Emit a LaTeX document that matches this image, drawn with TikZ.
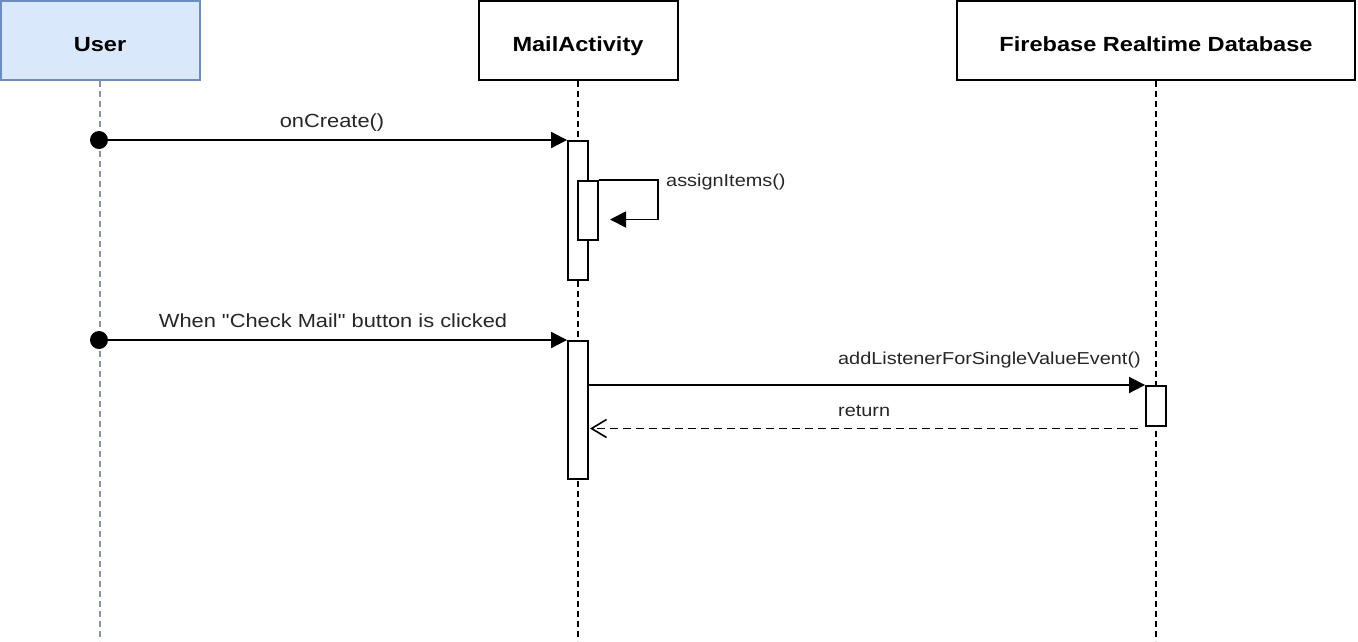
\documentclass[tikz,border=0pt]{standalone}
\usepackage{fontspec}
\setmainfont{Liberation Sans}[FakeStretch=1.15]
\newfontfamily\labfont{Liberation Sans}[FakeStretch=1.15]
\usetikzlibrary{arrows.meta}
\definecolor{ublue}{HTML}{DAE8FC}
\definecolor{ublueb}{HTML}{6C8EBF}
\definecolor{ugray}{HTML}{8A93A6}
\definecolor{lbl}{HTML}{262626}
\tikzset{
  hdr/.style={draw=black, line width=2pt, fill=white, minimum width=199pt, minimum height=79pt, inner sep=0pt, text height=22.4pt, text depth=0pt, font=\fontsize{20.5}{24}\selectfont\bfseries},
  actbox/.style={draw=black, line width=1.9pt, fill=white, minimum width=20pt, inner sep=0pt, anchor=north},
  lifel/.style={line width=1.5pt, dash pattern=on 6pt off 4pt},
  msg/.style={line width=1.9pt, -{Triangle[length=16pt,width=16pt]}},
  retmsg/.style={line width=1.8pt, dash pattern=on 8pt off 5pt, -{Straight Barb[length=15pt,width=18pt,line width=1.6pt]}},
  lab/.style={text=lbl, font=\labfont\fontsize{19}{22}\selectfont, inner sep=0pt},
  labs/.style={text=lbl, font=\labfont\fontsize{17.3}{20}\selectfont, inner sep=0pt}
}
\begin{document}
\begin{tikzpicture}[x=1pt,y=-1pt]
\useasboundingbox (0,0) rectangle (1358,641);
% headers
\node[hdr, fill=ublue, draw=ublueb] (user) at (100,40.5) {User};
\node[hdr] (mail) at (578,40.5) {MailActivity};
\node[hdr, minimum width=398pt] (fb) at (1156,40.5) {Firebase Realtime Database};
% bottom coordinates
\coordinate (ub) at (100,641);
\coordinate (mb) at (578,641);
\coordinate (fbb) at (1156,641);
% lifelines
\draw[lifel, ugray] (user.south) -- (ub);
\draw[lifel] (mail.south) -- (mb);
\draw[lifel] (fb.south) -- (fbb);
% activations
\node[actbox, minimum height=139pt] (act1) at (578,140) {};
\node[actbox, minimum height=59pt] (act1b) at (588,180) {};
\node[actbox, minimum height=138pt] (act2) at (578,340) {};
\node[actbox, minimum height=40pt] (act3) at (1156,385) {};
% message 1
\coordinate (d1) at (99,140);
\fill (d1) circle (9pt);
\draw[msg] (d1) -- (act1.north west);
\node[lab] (l1) at (332,123) {onCreate()};
% self call
\coordinate (sc) at (658,219.5);
\coordinate (se) at (610,219.5);
\draw[msg] (act1b.north east) -| (sc) -- (se);
\node[labs, anchor=west] (l2) at (666,182) {assignItems()};
% message 2
\coordinate (d2) at (99,340);
\fill (d2) circle (9pt);
\draw[msg] (d2) -- (act2.north west);
\node[lab] (l3) at (333,321) {When "Check Mail" button is clicked};
% message 3
\draw[msg] (act2.east |- act3.north west) -- (act3.north west);
\node[labs, anchor=east] (l4) at (1141,360) {addListenerForSingleValueEvent()};
% return
\coordinate (r1) at (1138,428.5);
\coordinate (r2) at (590,428.5);
\draw[retmsg] (r1) -- (r2);
\node[labs, anchor=west] (l5) at (838,411) {return};
\end{tikzpicture}
\end{document}
